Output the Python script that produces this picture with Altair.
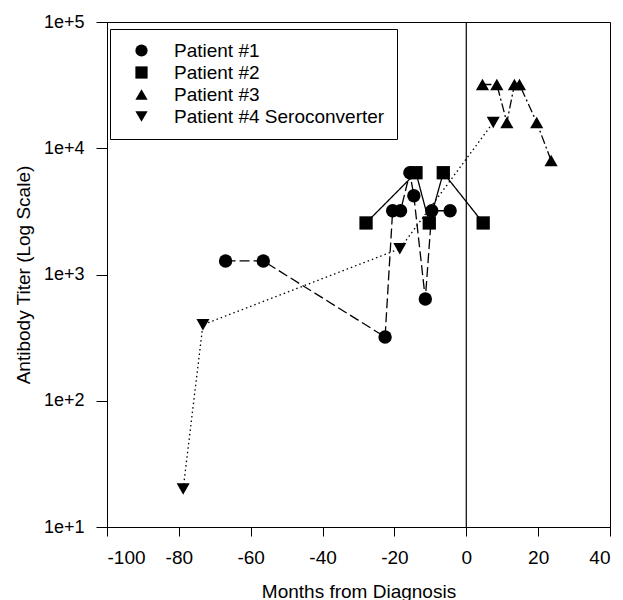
import altair as alt
import pandas as pd

patients = ["Patient #1", "Patient #2", "Patient #3", "Patient #4 Seroconverter"]

p1_months = [-67.0, -56.5, -22.6, -20.5, -18.3, -15.7, -14.6, -11.4, -9.6, -4.5]
p1_titer = [1280, 1280, 320, 3200, 3200, 6400, 4200, 640, 3200, 3200]

p2_months = [-27.9, -14.0, -10.3, -6.4, 4.7]
p2_titer = [2560, 6400, 2560, 6400, 2560]

p3_months = [4.5, 8.5, 11.3, 13.4, 14.8, 19.6, 23.6]
p3_titer = [32000, 32000, 16000, 32000, 32000, 16000, 8000]

p4_months = [-78.8, -73.3, -18.5, 7.5]
p4_titer = [20, 400, 1600, 16000]

x_ticks = [-100, -80, -60, -40, -20, 0, 20, 40]
y_ticks = [10, 100, 1000, 10000, 100000]
diagnosis_month = [0]

rows = []
for name, ms, ts in zip(patients, [p1_months, p2_months, p3_months, p4_months],
                        [p1_titer, p2_titer, p3_titer, p4_titer]):
    for i, (m, t) in enumerate(zip(ms, ts)):
        rows.append({"patient": name, "series": name, "month": m, "titer": t, "idx": i})
df = pd.DataFrame(rows)

FONT = "Liberation Sans, Arial, sans-serif"

x_enc = alt.X(
    "month:Q",
    scale=alt.Scale(domain=[-100, 40], nice=False, zero=False),
    axis=alt.Axis(
        values=x_ticks, title="Months from Diagnosis", grid=False,
        tickSize=9, labelPadding=12, labelFontSize=19, titleFontSize=19,
        titleFontWeight="normal", titleY=70, titleBaseline="alphabetic",
        labelExpr="'' + datum.value",
    ),
)
y_enc = alt.Y(
    "titer:Q",
    scale=alt.Scale(type="log", domain=[10, 100000], nice=False),
    axis=alt.Axis(
        values=y_ticks, title="Antibody Titer (Log Scale)", grid=False,
        tickSize=11, labelPadding=12, labelFontSize=18, titleFontSize=19,
        titleFontWeight="normal", titleX=-74, titleBaseline="bottom",
        labelExpr="'1e+' + round(log(datum.value) / LN10)",
    ),
)

base = alt.Chart(df)

# strokeDash / size use the "series" column so their (hidden) legends are not
# merged with the shape legend (which would disable it)
lines = base.mark_line(color="black", strokeWidth=1.3).encode(
    x=x_enc,
    y=y_enc,
    strokeDash=alt.StrokeDash(
        "series:N",
        scale=alt.Scale(range=[[10, 4], [1, 0], [9, 3, 2, 3], [1.5, 3]]),
        legend=None,
    ),
    order="idx:Q",
)

points = base.mark_point(filled=True, color="black", opacity=1).encode(
    x=x_enc,
    y=y_enc,
    shape=alt.Shape(
        "patient:N",
        scale=alt.Scale(range=["circle", "square", "triangle-up", "triangle-down"]),
        legend=alt.Legend(
            title=None, orient="none", legendX=3, legendY=7,
            fillColor="white", strokeColor="black", padding=12,
            symbolOffset=10, symbolSize=150, symbolFillColor="black",
            symbolStrokeColor="black", symbolStrokeWidth=0,
            labelFontSize=19, labelOffset=23, rowPadding=2, labelLimit=400,
            labelColor="black", labelFont=FONT,
        ),
    ),
    size=alt.Size(
        "series:N",
        scale=alt.Scale(range=[180, 170, 230, 230]),
        legend=None,
    ),
)

vline = alt.Chart(pd.DataFrame({"x": diagnosis_month})).mark_rule(
    color="black", strokeWidth=1.2
).encode(x=alt.X("x:Q"))

chart = alt.layer(vline, lines, points).properties(
    width=503,
    height=505,
    autosize=alt.AutoSizeParams(type="none"),
    padding={"left": 99, "top": 14, "right": 5, "bottom": 78},
).configure(font=FONT).configure_axis(
    domainColor="black", tickColor="black", labelColor="black",
    titleColor="black", domainWidth=1, tickWidth=1,
).configure_view(stroke="black", strokeWidth=1)

chart.save("out.html", embed_options={"renderer": "svg", "actions": False})
